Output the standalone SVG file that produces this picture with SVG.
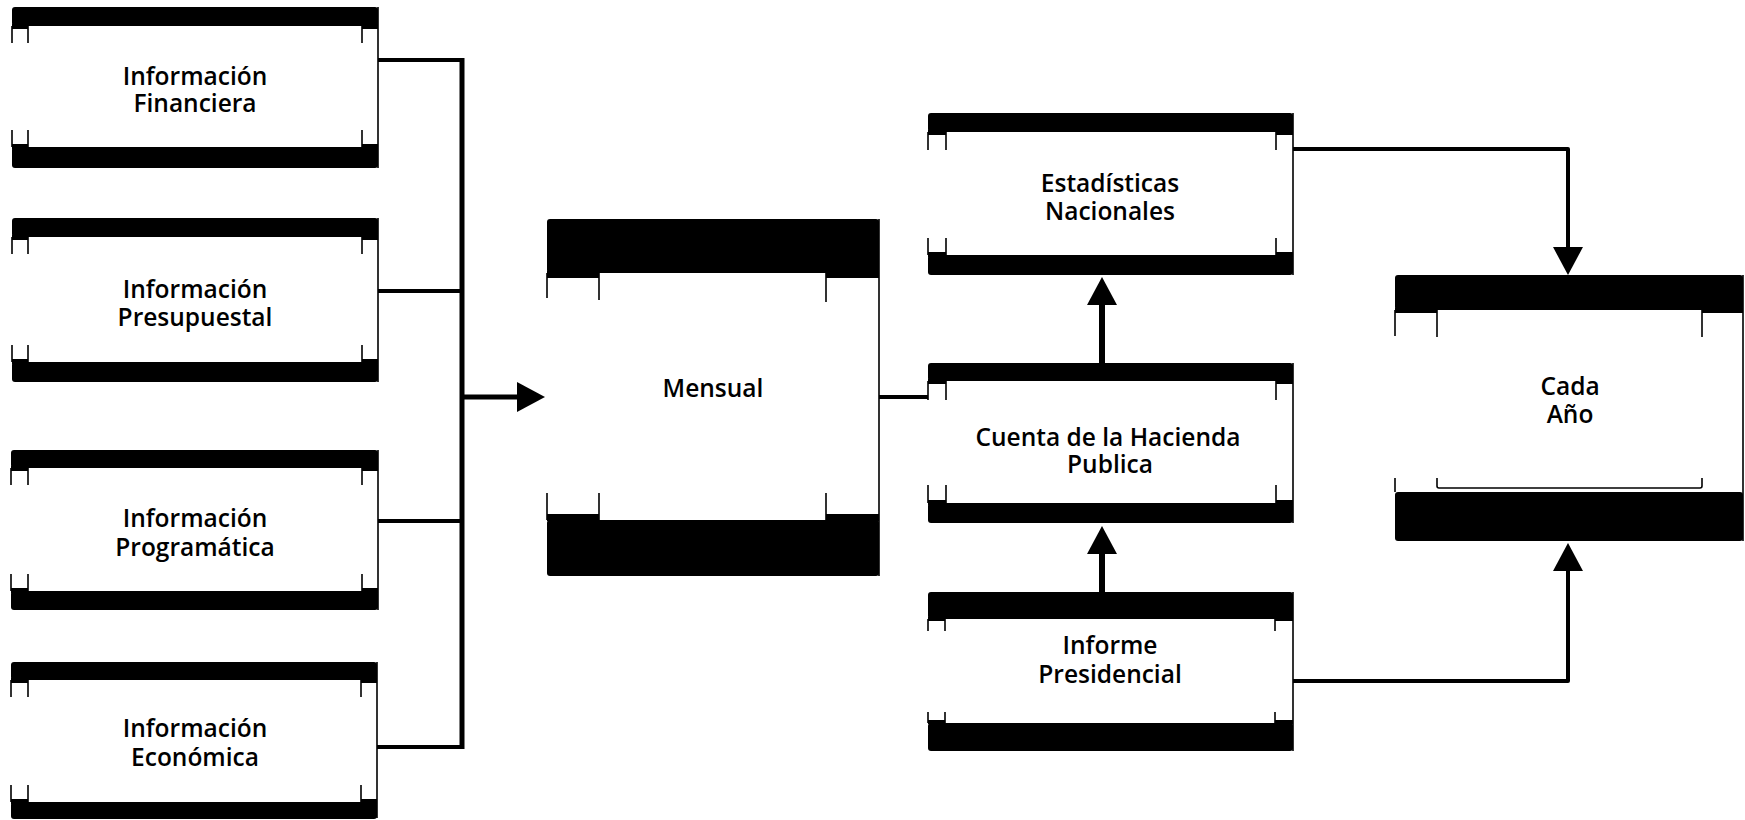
<svg xmlns="http://www.w3.org/2000/svg" width="1745" height="820" viewBox="0 0 1745 820">
<defs>
<style>
.band{fill:#000}
.edge{stroke:#000;stroke-width:1.6;fill:none}
.lbl{font-family:"Open Sans","Noto Sans","DejaVu Sans",sans-serif;font-weight:600;font-size:24.5px;text-anchor:middle;fill:#000}
.con{stroke:#000;fill:none;stroke-linejoin:round}
</style>
<marker id="ah" viewBox="0 0 28 30" refX="1" refY="15" markerWidth="28" markerHeight="30" markerUnits="userSpaceOnUse" orient="auto">
<path d="M0,0 L28,15 L0,30 Z" fill="#000"/>
</marker>
</defs>
<rect width="1745" height="820" fill="#fff"/>

<g id="n-financiera">
<rect class="band" x="12" y="7" width="366" height="19" rx="3"/>
<rect class="band" x="12" y="24" width="16" height="5"/><rect class="band" x="362" y="24" width="16" height="5"/>
<rect class="band" x="12" y="147" width="366" height="21" rx="3"/>
<rect class="band" x="12" y="144" width="16" height="5"/><rect class="band" x="362" y="144" width="16" height="5"/>
<path class="edge" d="M12,26 V43 M28,26 V43 M362,26 V43 M12,130 V147 M28,130 V147 M362,130 V147 M378,7 V168"/>
<text class="lbl" x="195" y="85">Información<tspan x="195" dy="27">Financiera</tspan></text>
</g>

<g id="n-presupuestal">
<rect class="band" x="12" y="218" width="366" height="19" rx="3"/>
<rect class="band" x="12" y="235" width="16" height="5"/><rect class="band" x="362" y="235" width="16" height="5"/>
<rect class="band" x="12" y="362" width="366" height="20" rx="3"/>
<rect class="band" x="12" y="359" width="16" height="5"/><rect class="band" x="362" y="359" width="16" height="5"/>
<path class="edge" d="M12,237 V254 M28,237 V254 M362,237 V254 M12,345 V362 M28,345 V362 M362,345 V362 M378,218 V382"/>
<text class="lbl" x="195" y="298">Información<tspan x="195" dy="28">Presupuestal</tspan></text>
</g>

<g id="n-programatica">
<rect class="band" x="11" y="450" width="367" height="18" rx="3"/>
<rect class="band" x="11" y="466" width="17" height="5"/><rect class="band" x="362" y="466" width="16" height="5"/>
<rect class="band" x="11" y="591" width="367" height="19" rx="3"/>
<rect class="band" x="11" y="588" width="17" height="5"/><rect class="band" x="362" y="588" width="16" height="5"/>
<path class="edge" d="M11,468 V485 M28,468 V485 M362,468 V485 M11,574 V591 M28,574 V591 M362,574 V591 M378,450 V610"/>
<text class="lbl" x="195" y="527">Información<tspan x="195" dy="29">Programática</tspan></text>
</g>

<g id="n-economica">
<rect class="band" x="11" y="662" width="366" height="18" rx="3"/>
<rect class="band" x="11" y="678" width="17" height="5"/><rect class="band" x="361" y="678" width="16" height="5"/>
<rect class="band" x="11" y="802" width="366" height="17" rx="3"/>
<rect class="band" x="11" y="799" width="17" height="5"/><rect class="band" x="361" y="799" width="16" height="5"/>
<path class="edge" d="M11,680 V697 M28,680 V697 M361,680 V697 M11,785 V802 M28,785 V802 M361,785 V802 M377,662 V818"/>
<text class="lbl" x="195" y="737">Información<tspan x="195" dy="29">Económica</tspan></text>
</g>

<g id="n-mensual">
<rect class="band" x="547" y="219" width="332" height="54" rx="3"/>
<rect class="band" x="547" y="271" width="52" height="7"/><rect class="band" x="826" y="271" width="53" height="7"/>
<rect class="band" x="547" y="520" width="332" height="56" rx="3"/>
<rect class="band" x="547" y="514" width="52" height="7"/><rect class="band" x="826" y="514" width="53" height="7"/>
<path class="edge" d="M547,273 V298 M599,273 V300 M826,273 V302 M547,493 V520 M599,493 V520 M826,493 V520 M879,219 V576"/>
<text class="lbl" x="713" y="397">Mensual</text>
</g>

<g id="n-estadisticas">
<rect class="band" x="928" y="113" width="365" height="19" rx="3"/>
<rect class="band" x="928" y="130" width="18" height="5"/><rect class="band" x="1276" y="130" width="17" height="5"/>
<rect class="band" x="928" y="255" width="365" height="20" rx="3"/>
<rect class="band" x="928" y="252" width="18" height="5"/><rect class="band" x="1276" y="252" width="17" height="5"/>
<path class="edge" d="M928,132 V150 M946,132 V150 M1276,132 V150 M928,238 V255 M946,238 V255 M1276,238 V255 M1293,113 V275"/>
<text class="lbl" x="1110" y="192">Estadísticas<tspan x="1110" dy="28">Nacionales</tspan></text>
</g>

<g id="n-cuenta">
<rect class="band" x="928" y="363" width="365" height="18" rx="3"/>
<rect class="band" x="928" y="379" width="18" height="5"/><rect class="band" x="1276" y="379" width="17" height="5"/>
<rect class="band" x="928" y="503" width="365" height="20" rx="3"/>
<rect class="band" x="928" y="500" width="18" height="5"/><rect class="band" x="1276" y="500" width="17" height="5"/>
<path class="edge" d="M928,381 V400 M946,381 V400 M1276,381 V400 M928,485 V503 M946,485 V503 M1276,485 V503 M1293,363 V523"/>
<text class="lbl" x="1108" y="446">Cuenta de la Hacienda<tspan x="1110" dy="27">Publica</tspan></text>
</g>

<g id="n-informe">
<rect class="band" x="928" y="592" width="365" height="27" rx="3"/>
<rect class="band" x="928" y="617" width="17" height="4"/><rect class="band" x="1275" y="617" width="18" height="4"/>
<rect class="band" x="928" y="723" width="365" height="28" rx="3"/>
<rect class="band" x="928" y="720" width="17" height="4"/><rect class="band" x="1275" y="720" width="18" height="4"/>
<path class="edge" d="M928,619 V631 M945,619 V631 M1275,619 V631 M928,712 V723 M945,712 V723 M1275,712 V723 M1293,592 V751"/>
<text class="lbl" x="1110" y="654">Informe<tspan x="1110" dy="29">Presidencial</tspan></text>
</g>

<g id="n-cada">
<rect class="band" x="1395" y="275" width="348" height="35" rx="3"/>
<rect class="band" x="1395" y="308" width="42" height="5"/><rect class="band" x="1702" y="308" width="41" height="5"/>
<rect class="band" x="1395" y="492" width="348" height="49" rx="3"/>
<path class="edge" d="M1395,310 V336 M1437,310 V337 M1702,310 V337 M1395,478 V492 M1437,478 V486 Q1437,488 1439,488 H1700 Q1702,488 1702,486 V478 M1743,275 V541"/>
<text class="lbl" x="1570" y="395">Cada<tspan x="1570" dy="28">Año</tspan></text>
</g>

<g id="connectors">
<path class="con" stroke-width="4" d="M378,60 H462"/>
<path class="con" stroke-width="4" d="M378,291 H462"/>
<path class="con" stroke-width="4" d="M378,521 H462"/>
<path class="con" stroke-width="4" d="M377,747 H462"/>
<path class="con" stroke-width="5" d="M462,58 V749"/>
<path class="con" stroke-width="5" d="M462,397 H518" marker-end="url(#ah)"/>
<path class="con" stroke-width="4" d="M879,397 H928"/>
<path class="con" stroke-width="6" d="M1102,363 V304" marker-end="url(#ah)"/>
<path class="con" stroke-width="6" d="M1102,592 V553" marker-end="url(#ah)"/>
<path class="con" stroke-width="4" d="M1293,149 H1568 V248" marker-end="url(#ah)"/>
<path class="con" stroke-width="4" d="M1293,681 H1568 V570" marker-end="url(#ah)"/>
</g>
</svg>
